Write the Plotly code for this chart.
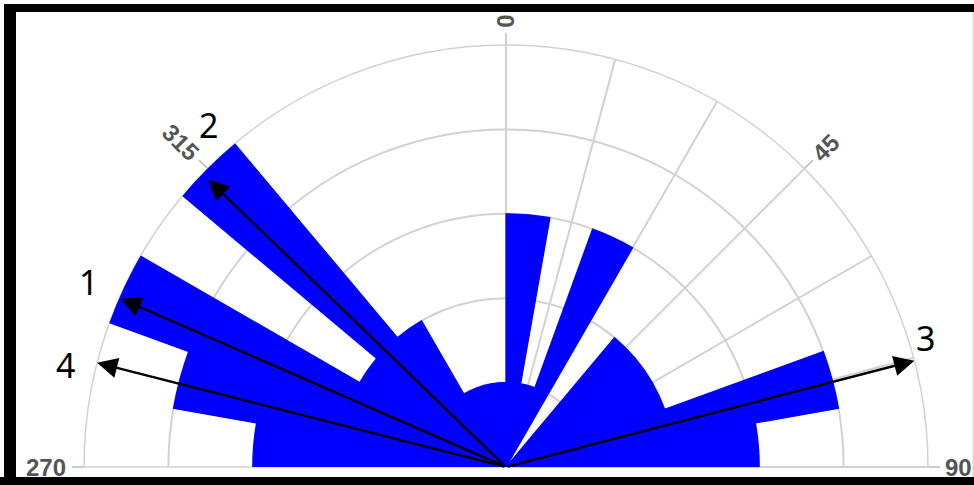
import math
import plotly.graph_objects as go

# ---------------- data ----------------
bin_start_deg = [270, 280, 290, 300, 310, 320, 330, 340, 350,
                 0, 10, 20, 30, 40, 50, 60, 70, 80]
bin_counts = [3, 4, 5, 2, 5, 2, 1, 1, 1,
              3, 1, 3, 0, 2, 2, 2, 4, 3]
bin_width_deg = 10
radial_ticks = [1, 2, 3, 4]
radial_max = 5
angular_grid_deg = list(range(0, 360, 15))
angle_label_deg = [0, 45, 90, 270, 315]
angle_labels = ["0", "45", "90", "270", "315"]
arrow_names = ["1", "2", "3", "4"]
arrow_deg = [293.6, 314.0, 75.4, 284.3]
arrow_len = [4.98, 4.9, 5.0, 5.0]

# ---------------- layout geometry / styles ----------------
W, H = 974, 485
CX, CY = 506, 467          # polar centre in px (from top-left)
R_PX = 422                 # outer radius in px
S = R_PX / radial_max      # px per radial unit
GRID = "#d2d2d2"
LABEL_COLOR = "#555555"
BLUE = "#0000ff"
label_offsets = {"1": (-32, 17), "2": (0, 55), "3": (11, 23), "4": (-32, -2)}


def to_xy(r, deg):
    a = math.radians(deg)
    return r * math.sin(a), r * math.cos(a)


centers = [(b + bin_width_deg / 2) % 360 for b in bin_start_deg]

fig = go.Figure()
fig.add_trace(go.Barpolar(
    r=bin_counts, theta=centers, width=[bin_width_deg] * len(centers),
    marker=dict(color=BLUE, line=dict(color=BLUE, width=1.2)),
    hoverinfo="skip", showlegend=False,
))

# outside tick marks at labelled angles (cartesian overlay)
tx, ty = [], []
for d in angle_label_deg:
    x0, y0 = to_xy(radial_max, d)
    x1, y1 = to_xy(radial_max + 12 / S, d)
    tx += [x0, x1, None]
    ty += [y0, y1, None]
fig.add_trace(go.Scatter(x=tx, y=ty, mode="lines",
                         line=dict(color="#bdbdbd", width=1.5),
                         hoverinfo="skip", showlegend=False,
                         xaxis="x", yaxis="y"))

annotations = []
# rotated angle labels
for d, t in zip(angle_label_deg, angle_labels):
    r = radial_max + (16 + 7.2 * len(t)) / S
    x, y = to_xy(r, d)
    ang = (d - 90) if d < 180 else (d - 270)
    annotations.append(dict(x=x, y=y, xref="x", yref="y",
                            text="<b>%s</b>" % t,
                            showarrow=False, textangle=ang,
                            xanchor="center", yanchor="middle",
                            font=dict(family="Liberation Sans", size=24,
                                      color=LABEL_COLOR)))

# arrows and their numbers
for name, d, L in zip(arrow_names, arrow_deg, arrow_len):
    x, y = to_xy(L, d)
    annotations.append(dict(x=x, y=y, xref="x", yref="y",
                            ax=0, ay=0, axref="x", ayref="y",
                            text="", showarrow=True, arrowhead=2,
                            arrowsize=1.7, arrowwidth=2.4,
                            arrowcolor="black", standoff=0))
    dx, dy = label_offsets[name]
    annotations.append(dict(x=x, y=y, xref="x", yref="y", text=name,
                            showarrow=False, xshift=dx, yshift=dy,
                            xanchor="center", yanchor="middle",
                            font=dict(family="Noto Sans", size=34,
                                      color="black")))

# black frame (px -> paper)
def rect(x0, y0, x1, y1, color):
    return dict(type="rect", xref="paper", yref="paper",
                x0=x0 / W, x1=x1 / W, y0=1 - y1 / H, y1=1 - y0 / H,
                fillcolor=color, line=dict(width=0), layer="above")

shapes = [
    rect(8, 4, W, 12, "black"),
    rect(4, 4, 16, H, "black"),
    rect(0, 477, W, H, "black"),
    rect(W - 1.5, 12, W, 477, "#d9d9d9"),
]

fig.update_layout(
    width=W, height=H,
    margin=dict(l=0, r=0, t=0, b=0),
    paper_bgcolor="white",
    plot_bgcolor="rgba(0,0,0,0)",
    showlegend=False,
    polar=dict(
        domain=dict(x=[(CX - R_PX) / W, (CX + R_PX) / W],
                    y=[1 - CY / H, 1 - (CY - R_PX) / H]),
        sector=[0, 180],
        bgcolor="white",
        bargap=0,
        radialaxis=dict(range=[0, radial_max], tickvals=radial_ticks,
                        showticklabels=False, ticks="", showline=False,
                        gridcolor=GRID, gridwidth=1.5, layer="below traces"),
        angularaxis=dict(direction="clockwise", rotation=90,
                         tickvals=angular_grid_deg, showticklabels=False,
                         ticks="", showline=True, linecolor=GRID,
                         linewidth=1.5, gridcolor=GRID, gridwidth=1.5,
                         layer="below traces"),
    ),
    xaxis=dict(domain=[0, 1], range=[-CX / S, (W - CX) / S],
               visible=False, fixedrange=True, autorange=False),
    yaxis=dict(domain=[0, 1], range=[-(H - CY) / S, CY / S],
               visible=False, fixedrange=True, autorange=False),
    annotations=annotations,
    shapes=shapes,
)

fig.write_html("out.html")
